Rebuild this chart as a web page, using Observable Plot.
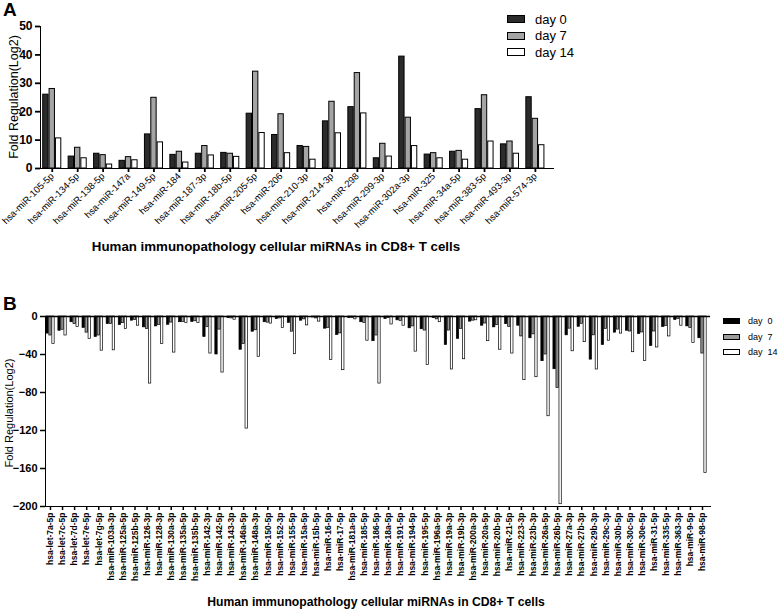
<!DOCTYPE html>
<html><head><meta charset="utf-8">
<script src="https://cdn.jsdelivr.net/npm/d3@7"></script>
<script src="https://cdn.jsdelivr.net/npm/@observablehq/plot@0.6"></script>
<style>
body{margin:0;background:#fff;font-family:Arial,"Liberation Sans",sans-serif;color:#000;}
#wrap{position:relative;width:778px;height:610px;overflow:hidden;background:#fff;}
.abs{position:absolute;white-space:nowrap;}
.rot{transform:translate(-50%,-50%) rotate(-90deg);}
.ctr{transform:translate(-50%,0);}
#A [aria-label^="y-axis"] text{font-size:12px;font-weight:bold;}
#B [aria-label^="y-axis"] text{font-size:11px;font-weight:bold;}
#A [aria-label^="y-axis"] path,#A [aria-label^="y-axis"] line,#A [aria-label^="x-axis"] path,#A [aria-label^="x-axis"] line{stroke-width:1.8;}
#B [aria-label^="y-axis"] path,#B [aria-label^="y-axis"] line,#B [aria-label^="x-axis"] path,#B [aria-label^="x-axis"] line{stroke-width:1.5;}
.leg{display:flex;align-items:center;}
.sw{display:inline-block;box-sizing:border-box;border:1px solid #000;}
</style></head><body><div id="wrap"></div>
<script>
const seriesNames = ["day 0", "day 7", "day 14"];

const catsA = ["hsa-miR-105-5p","hsa-miR-134-5p","hsa-miR-138-5p","hsa-miR-147a","hsa-miR-149-5p","hsa-miR-184","hsa-miR-187-3p","hsa-miR-18b-5p","hsa-miR-205-5p","hsa-miR-206","hsa-miR-210-3p","hsa-miR-214-3p","hsa-miR-298","hsa-miR-299-3p","hsa-miR-302a-3p","hsa-miR-325","hsa-miR-34a-5p","hsa-miR-383-5p","hsa-miR-493-3p","hsa-miR-574-3p"];
const a_day0  = [26, 4.2, 5.2, 2.7, 12, 4.8, 5.2, 5.5, 19.3, 11.8, 7.9, 16.6, 21.6, 3.6, 39.4, 4.9, 5.9, 20.9, 8.5, 25.1];
const a_day7  = [28, 7.3, 4.7, 4, 24.9, 5.9, 7.9, 5.2, 34.1, 19.1, 7.6, 23.5, 33.6, 8.7, 17.9, 5.4, 6.2, 25.8, 9.5, 17.5];
const a_day14 = [10.6, 3.6, 1.4, 2.9, 9.2, 2.1, 4.6, 4.1, 12.5, 5.4, 3.1, 12.4, 19.4, 4.2, 7.9, 3.6, 3.1, 9.5, 5.2, 8.2];
const a_yticks = [0, 10, 20, 30, 40, 50];

const catsB = ["hsa-let-7a-5p","hsa-let-7c-5p","hsa-let-7d-5p","hsa-let-7e-5p","hsa-let-7g-5p","hsa-miR-103a-3p","hsa-miR-125a-5p","hsa-miR-125b-5p","hsa-miR-126-3p","hsa-miR-128-3p","hsa-miR-130a-3p","hsa-miR-135a-5p","hsa-miR-135b-5p","hsa-miR-142-3p","hsa-miR-142-5p","hsa-miR-143-3p","hsa-miR-146a-5p","hsa-miR-148a-3p","hsa-miR-150-5p","hsa-miR-152-3p","hsa-miR-155-5p","hsa-miR-15a-5p","hsa-miR-15b-5p","hsa-miR-16-5p","hsa-miR-17-5p","hsa-miR-181a-5p","hsa-miR-185-5p","hsa-miR-186-5p","hsa-miR-18a-5p","hsa-miR-191-5p","hsa-miR-194-5p","hsa-miR-195-5p","hsa-miR-196a-5p","hsa-miR-19a-3p","hsa-miR-19b-3p","hsa-miR-200a-3p","hsa-miR-20a-5p","hsa-miR-20b-5p","hsa-miR-21-5p","hsa-miR-223-3p","hsa-miR-23b-3p","hsa-miR-26a-5p","hsa-miR-26b-5p","hsa-miR-27a-3p","hsa-miR-27b-3p","hsa-miR-29b-3p","hsa-miR-29c-3p","hsa-miR-30b-5p","hsa-miR-30c-5p","hsa-miR-30e-5p","hsa-miR-31-5p","hsa-miR-335-5p","hsa-miR-363-3p","hsa-miR-9-5p","hsa-miR-98-5p"];
const b_day0  = [-18, -15, -6, -12, -21.5, -8, -9, -4.4, -11.4, -10.4, -8.7, -6, -5.7, -21.5, -40, -1.7, -35, -16, -6, -2.7, -6.7, -4.4, -1, -12.8, -19.5, -1.7, -6, -26, -2.7, -4, -12.4, -13.4, -1.7, -30, -23.5, -5.4, -9.7, -11.4, -8, -9.7, -22.9, -47, -55.5, -19.8, -10.8, -45.4, -30, -17, -15, -18.5, -31, -11, -3.7, -10.4, -22.9];
const b_day7  = [-20, -14, -8, -17, -20, -8, -7, -3.7, -13, -9, -6.4, -5.7, -5, -11, -13.8, -2, -29, -14.5, -6.5, -2, -16, -3, -2, -12, -17.8, -1.7, -6.7, -20, -1.7, -4.7, -10.4, -14.8, -3, -14.8, -13, -4.4, -7.4, -9, -11, -21, -18.8, -40, -75.3, -12.8, -7.7, -19.8, -13, -13.8, -15.8, -16.8, -15.8, -10, -2.7, -12, -39];
const b_day14 = [-29, -20, -11, -23.5, -36, -35.6, -13, -9.7, -70.6, -29, -38, -6.7, -6.7, -39, -59, -3.4, -118, -42.4, -7.5, -12, -39.7, -9.4, -5.4, -45.7, -56.5, -3, -25.5, -70.6, -8.4, -9.7, -37, -51, -6, -55.8, -45, -4, -26, -35, -39, -67, -63.9, -105, -197.6, -36.6, -27, -55.8, -25.5, -18, -37.6, -46.7, -32.6, -21, -9.7, -28, -164.7];
const b_yticks = [0, -40, -80, -120, -160, -200];

const titleText = "Human immunopathology cellular miRNAs in CD8+ T cells";
const yTitle = "Fold Regulation(Log2)";

function build(cats, s0, s7, s14) {
  const keys = cats.flatMap(c => [...seriesNames.map(s => c + "|" + s), c + "|gap"]);
  const rows = cats.flatMap((c, i) => [s0[i], s7[i], s14[i]].map((v, j) => ({key: c + "|" + seriesNames[j], series: seriesNames[j], value: v})));
  const ticks = cats.map(c => c + "|day 7");
  return {keys, rows, ticks};
}

const wrap = document.getElementById("wrap");
function add(html, style, cls) {
  const d = document.createElement("div");
  d.className = "abs " + (cls || "");
  d.style.cssText = style;
  d.innerHTML = html;
  wrap.appendChild(d);
  return d;
}

// Panel A
const A = build(catsA, a_day0, a_day7, a_day14);
const colA = ["#2b2b2b", "#a4a4a4", "#ffffff"];
const plotA = Plot.plot({
  width: 778, height: 265,
  marginLeft: 40, marginRight: 225, marginTop: 26, marginBottom: 97,
  style: {fontFamily: 'Arial,"Liberation Sans",sans-serif', fontSize: "9.5px", background: "transparent", color: "#000", overflow: "visible"},
  x: {domain: A.keys, round: false, paddingInner: 0, paddingOuter: 0.35, ticks: A.ticks, tickFormat: d => d.split("|")[0], tickRotate: -45, tickSize: 4, tickPadding: 2, label: null, line: true},
  y: {domain: [0, 50], ticks: a_yticks, tickSize: 5, tickPadding: 3, label: null, line: true},
  color: {domain: seriesNames, range: colA},
  marks: [
    Plot.barY(A.rows, {x: "key", y: "value", fill: "series", stroke: "#000", strokeWidth: 1, insetLeft: 0.5, insetRight: 0.5})
  ]
});
const divA = add("", "left:0;top:0;", "");
divA.id = "A";
divA.appendChild(plotA);

// Panel B
const B = build(catsB, b_day0, b_day7, b_day14);
const colB = ["#000000", "#9c9c9c", "#ffffff"];
const plotB = Plot.plot({
  width: 778, height: 320,
  marginLeft: 45, marginRight: 68, marginTop: 26, marginBottom: 104,
  style: {fontFamily: 'Arial,"Liberation Sans",sans-serif', fontSize: "8.5px", fontWeight: "bold", background: "transparent", color: "#000", overflow: "visible"},
  x: {domain: B.keys, round: false, paddingInner: 0, paddingOuter: 0.15, ticks: B.ticks, tickFormat: d => d.split("|")[0], tickRotate: -90, tickSize: 4, tickPadding: 2, label: null, line: true},
  y: {domain: [-200, 0], ticks: b_yticks, tickSize: 5, tickPadding: 3, label: null, line: true},
  color: {domain: seriesNames, range: colB},
  marks: [
    Plot.barY(B.rows, {x: "key", y: "value", fill: "series", stroke: "#000", strokeWidth: 0.7, insetLeft: 0.35, insetRight: 0.35}),
    Plot.ruleY([0], {stroke: "#000", strokeWidth: 1.5})
  ]
});
const divB = add("", "left:0;top:290px;", "");
divB.id = "B";
divB.appendChild(plotB);

// Text overlays
add("A", "left:3px;top:-1px;font-size:19px;font-weight:bold;");
add("B", "left:3px;top:293px;font-size:19px;font-weight:bold;");
add(titleText, "left:276px;top:239px;font-size:13.3px;font-weight:bold;", "ctr");
add(titleText, "left:376px;top:595px;font-size:12.2px;font-weight:bold;", "ctr");
add(yTitle, "left:14px;top:97px;font-size:12.5px;", "rot");
add(yTitle, "left:9px;top:413px;font-size:11px;", "rot");

// Legends
seriesNames.forEach((s, i) => {
  add(`<span class="sw" style="width:18px;height:8px;background:${colA[i]};margin-right:10px"></span><span style="font-size:13px">${s}</span>`,
      `left:507px;top:${11 + i * 16.5}px;height:16px;`, "leg");
  add(`<span class="sw" style="width:17px;height:6px;background:${colB[i]};margin-right:8px"></span><span style="font-size:9px">${s.replace(" ", "&nbsp;&nbsp;")}</span>`,
      `left:723px;top:${314 + i * 15.5}px;height:14px;`, "leg");
});
</script></body></html>
